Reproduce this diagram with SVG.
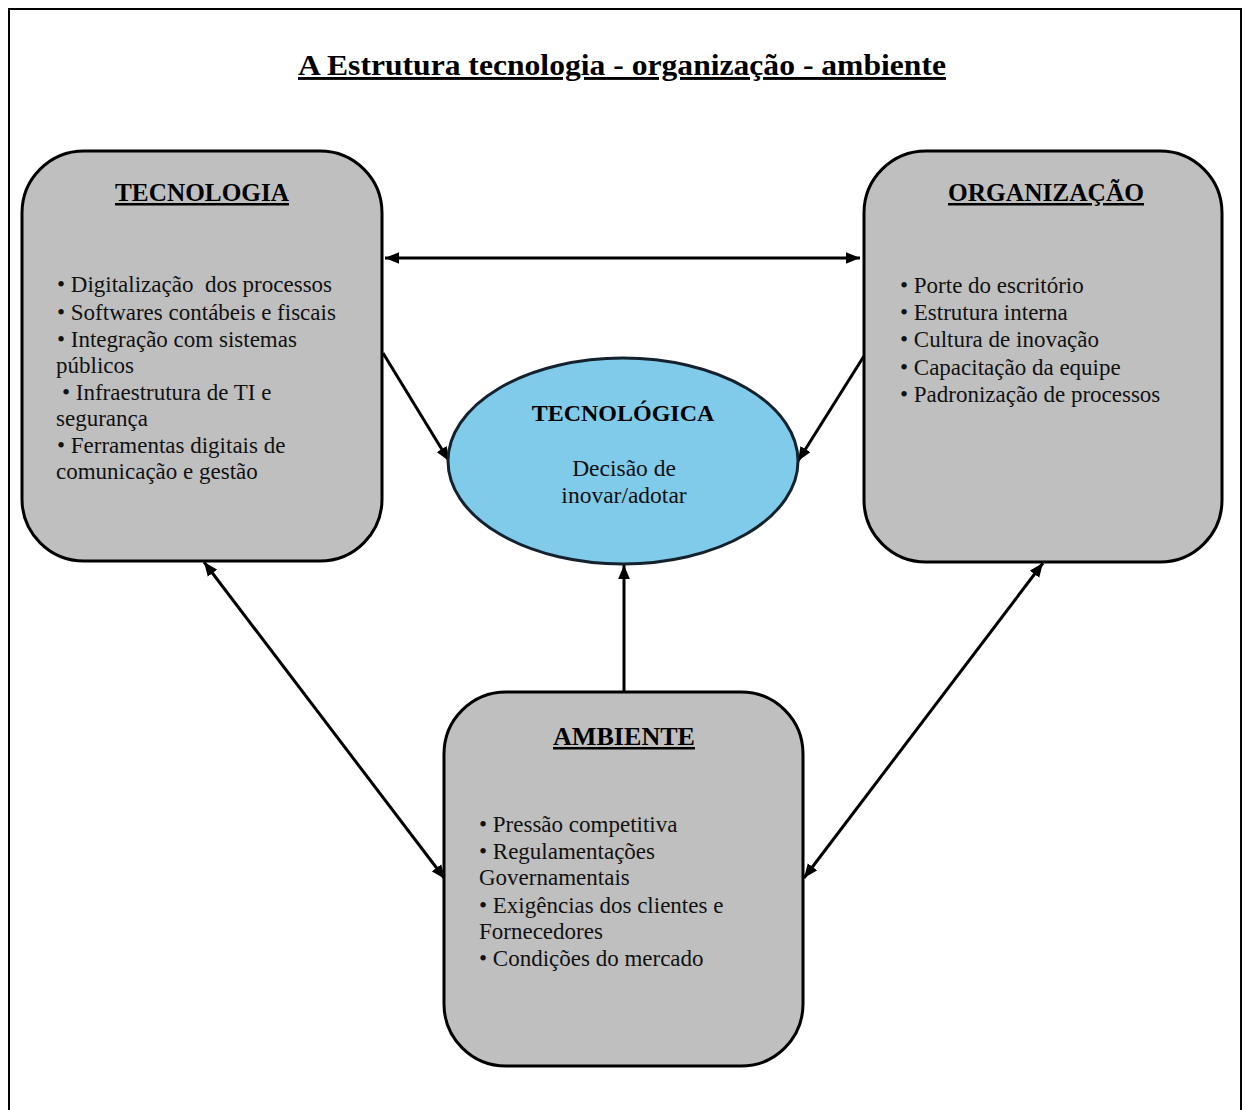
<svg xmlns="http://www.w3.org/2000/svg" width="1245" height="1110" viewBox="0 0 1245 1110">
  <style>
    .box { fill: #bfbfbf; stroke: #000; stroke-width: 3; }
    .ell { fill: #80caea; stroke: #14222e; stroke-width: 3; }
    .head { font-family: "Liberation Serif", "Times New Roman", serif; font-weight: bold; font-size: 25px; fill: #000; text-decoration: underline; text-anchor: middle; }
    .list { font-family: "Liberation Serif", "Times New Roman", serif; font-size: 23px; fill: #111; }
    .title { font-family: "Liberation Serif", "Times New Roman", serif; font-weight: bold; font-size: 29px; fill: #000; text-decoration: underline; text-anchor: middle; }
    .center-bold { font-family: "Liberation Serif", "Times New Roman", serif; font-weight: bold; font-size: 24px; fill: #000; text-anchor: middle; }
    .center-txt { font-family: "Liberation Serif", "Times New Roman", serif; font-size: 23.5px; fill: #111; text-anchor: middle; }
    .conn { stroke: #000; stroke-width: 3; fill: none; }
  </style>
  <defs>
    <marker id="ah" viewBox="0 0 12 10" refX="12" refY="5" markerUnits="userSpaceOnUse" markerWidth="14" markerHeight="12" orient="auto-start-reverse">
      <path d="M0,0 L12,5 L0,10 Z" fill="#000"/>
    </marker>
  </defs>

  <!-- page frame -->
  <rect x="9" y="9" width="1232" height="1200" fill="#fff" stroke="#000" stroke-width="2"/>

  <text class="title" x="622" y="75" textLength="648" lengthAdjust="spacingAndGlyphs">A Estrutura tecnologia - organização - ambiente</text>

  <!-- connectors -->
  <g id="connectors">
    <line class="conn" x1="385" y1="258" x2="860" y2="258" marker-start="url(#ah)" marker-end="url(#ah)"/>
    <line class="conn" x1="383" y1="353" x2="449" y2="461" marker-end="url(#ah)"/>
    <line class="conn" x1="864" y1="356" x2="798" y2="461" marker-end="url(#ah)"/>
    <line class="conn" x1="624" y1="692" x2="624" y2="565" marker-end="url(#ah)"/>
    <line class="conn" x1="204" y1="562" x2="445" y2="879" marker-start="url(#ah)" marker-end="url(#ah)"/>
    <line class="conn" x1="1043" y1="563" x2="804" y2="878" marker-start="url(#ah)" marker-end="url(#ah)"/>
  </g>

  <!-- technology context -->
  <g id="tecnologia">
    <rect class="box" x="22" y="151" width="360" height="410" rx="62" ry="62"/>
    <text class="head" x="202" y="201" textLength="174" lengthAdjust="spacingAndGlyphs">TECNOLOGIA</text>
    <text class="list" xml:space="preserve">
      <tspan x="57" y="292">• Digitalização  dos processos</tspan>
      <tspan x="57" y="320">• Softwares contábeis e fiscais</tspan>
      <tspan x="57" y="347">• Integração com sistemas</tspan>
      <tspan x="56" y="373">públicos</tspan>
      <tspan x="62" y="400">• Infraestrutura de TI e</tspan>
      <tspan x="56" y="426">segurança</tspan>
      <tspan x="57" y="453">• Ferramentas digitais de</tspan>
      <tspan x="56" y="479">comunicação e gestão</tspan>
    </text>
  </g>

  <!-- organization context -->
  <g id="organizacao">
    <rect class="box" x="864" y="151" width="358" height="411" rx="62" ry="62"/>
    <text class="head" x="1046" y="201" textLength="196" lengthAdjust="spacingAndGlyphs">ORGANIZAÇÃO</text>
    <text class="list" xml:space="preserve">
      <tspan x="900" y="293">• Porte do escritório</tspan>
      <tspan x="900" y="320">• Estrutura interna</tspan>
      <tspan x="900" y="347">• Cultura de inovação</tspan>
      <tspan x="900" y="375">• Capacitação da equipe</tspan>
      <tspan x="900" y="402">• Padronização de processos</tspan>
    </text>
  </g>

  <!-- adoption decision -->
  <g id="decisao">
    <ellipse class="ell" cx="623" cy="461" rx="175" ry="103"/>
    <text class="center-bold" x="623" y="421">TECNOLÓGICA</text>
    <text class="center-txt" x="624" y="476">Decisão de</text>
    <text class="center-txt" x="624" y="503">inovar/adotar</text>
  </g>

  <!-- environment context -->
  <g id="ambiente">
    <rect class="box" x="444" y="692" width="359" height="374" rx="62" ry="62"/>
    <text class="head" x="624" y="745" textLength="142" lengthAdjust="spacingAndGlyphs">AMBIENTE</text>
    <text class="list" xml:space="preserve">
      <tspan x="479" y="832">• Pressão competitiva</tspan>
      <tspan x="479" y="859">• Regulamentações</tspan>
      <tspan x="479" y="885">Governamentais</tspan>
      <tspan x="479" y="913">• Exigências dos clientes e</tspan>
      <tspan x="479" y="939">Fornecedores</tspan>
      <tspan x="479" y="966">• Condições do mercado</tspan>
    </text>
  </g>
</svg>
